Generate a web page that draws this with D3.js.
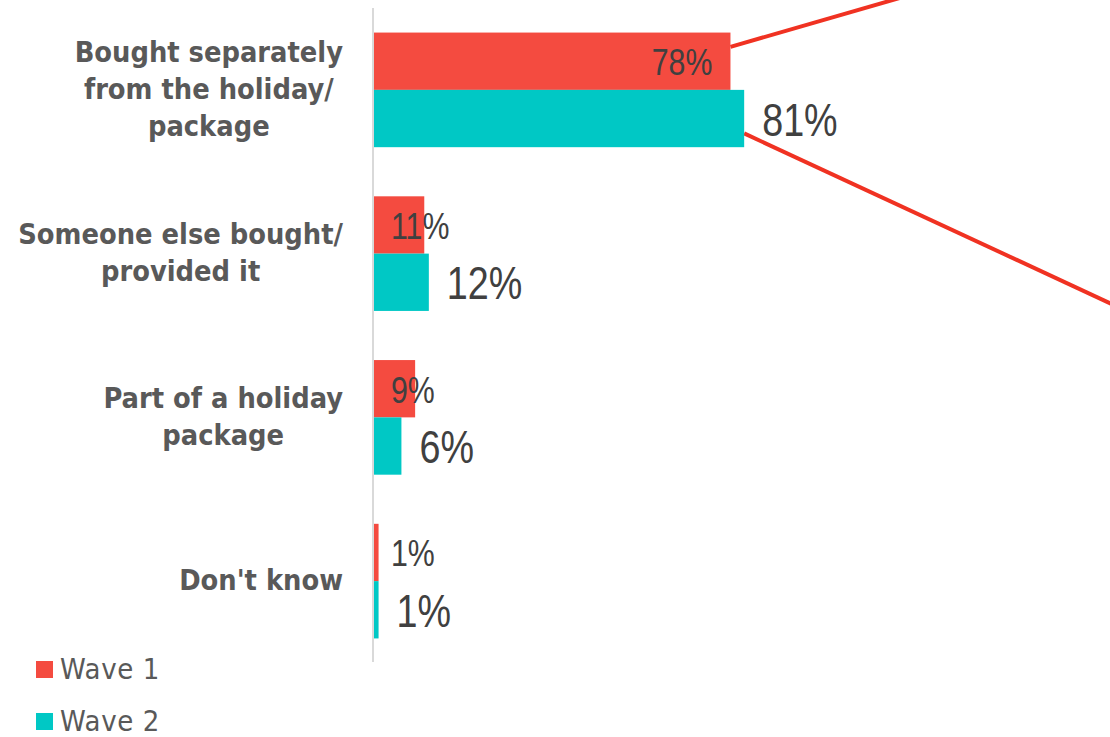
<!DOCTYPE html>
<html>
<head>
<meta charset="utf-8">
<script src="https://cdn.jsdelivr.net/npm/d3@7"></script>
<style>
  body { margin: 0; background: #fff; }
  svg { display: block; }
</style>
</head>
<body>
<svg id="svg" width="1110" height="737"></svg>
<script>
// chart data
var categories = [
  ["Bought separately", "from the holiday/", "package"],
  ["Someone else bought/", "provided it"],
  ["Part of a holiday", "package"],
  ["Don't know"]
];
var seriesNames = ["Wave 1", "Wave 2"];
var wave1 = [78, 11, 9, 1];
var wave2 = [81, 12, 6, 1];

var colors = ["#f44b40", "#00c8c5"];
var svg = d3.select("#svg");
var width = +svg.attr("width"),
    height = +svg.attr("height");

var x = d3.scaleLinear().domain([0, 100]).range([374, 831]);
var y = d3.scaleBand()
    .domain(d3.range(categories.length))
    .range([8, 663])
    .paddingInner(0.3)
    .paddingOuter(0.15);
var ySub = d3.scaleBand().domain([0, 1]).range([0, y.bandwidth()]);

var narrow = 0.82; // value labels are drawn condensed
var valueFont = "'Liberation Sans', Arial, sans-serif";

var rows = categories.map(function(c, i) {
  return { i: i, label: c, values: [wave1[i], wave2[i]] };
});

// axis line
svg.append("line")
   .attr("x1", 373).attr("x2", 373)
   .attr("y1", y.range()[0]).attr("y2", y.range()[1] - 1)
   .attr("stroke", "#d9d9d9").attr("stroke-width", 2);

// callout lines from the top group
var top0 = y(0);
var l1x = x(wave1[0]), l1y = top0 + ySub(0) + ySub.bandwidth() * 0.25;
svg.append("line")
   .attr("x1", l1x).attr("y1", l1y)
   .attr("x2", l1x + 200).attr("y2", l1y - 200 * 0.289)
   .attr("stroke", "#f03222").attr("stroke-width", 4);
var l2x = x(wave2[0]), l2y = top0 + ySub(1) + ySub.bandwidth() * 0.76;
svg.append("line")
   .attr("x1", l2x).attr("y1", l2y)
   .attr("x2", l2x + 400).attr("y2", l2y + 400 * 0.464)
   .attr("stroke", "#f03222").attr("stroke-width", 4);

var group = svg.selectAll("g.grp")
  .data(rows)
  .enter().append("g")
    .attr("class", "grp")
    .attr("transform", function(d) { return "translate(0," + y(d.i) + ")"; });

group.selectAll("rect")
  .data(function(d) { return d.values; })
  .enter().append("rect")
    .attr("x", x(0))
    .attr("y", function(d, j) { return ySub(j); })
    .attr("width", function(d) { return x(d) - x(0); })
    .attr("height", ySub.bandwidth())
    .attr("fill", function(d, j) { return colors[j]; });

// wave 1 labels: inside end, pushed right for short bars
group.append("text")
    .text(function(d) { return d.values[0] + "%"; })
    .attr("font-family", valueFont)
    .attr("font-size", "37px")
    .attr("fill", "#404040")
    .attr("transform", function(d) {
      var w = this.getComputedTextLength() * narrow;
      var tx = Math.max(x(d.values[0]) - 18 - w, x(0) + 17);
      var ty = ySub(0) + ySub.bandwidth() / 2 + 14;
      return "translate(" + tx + "," + ty + ") scale(" + narrow + ",1)";
    });

// wave 2 labels: outside end
group.append("text")
    .text(function(d) { return d.values[1] + "%"; })
    .attr("font-family", valueFont)
    .attr("font-size", "46px")
    .attr("fill", "#404040")
    .attr("transform", function(d) {
      var tx = x(d.values[1]) + 18;
      var ty = ySub(1) + ySub.bandwidth() / 2 + 17;
      return "translate(" + tx + "," + ty + ") scale(" + narrow + ",1)";
    });

// category labels, centred on the widest line, right edge at 343
var cat = group.append("text")
    .attr("text-anchor", "middle")
    .attr("font-family", "'DejaVu Sans Condensed', 'DejaVu Sans', sans-serif")
    .attr("font-weight", "bold")
    .attr("font-size", "28.7px")
    .attr("fill", "#595959");

cat.selectAll("tspan")
  .data(function(d) { return d.label.map(function(t, k) { return { t: t, k: k, n: d.label.length }; }); })
  .enter().append("tspan")
    .attr("y", function(d) { return y.bandwidth() / 2 + 9 + (d.k - (d.n - 1) / 2) * 37; })
    .text(function(d) { return d.t; });

cat.each(function() {
  var spans = d3.select(this).selectAll("tspan");
  var maxW = 0;
  spans.each(function() { maxW = Math.max(maxW, this.getComputedTextLength()); });
  spans.attr("x", 343 - maxW / 2);
});

// legend
var legend = svg.selectAll("g.legend")
  .data(seriesNames)
  .enter().append("g")
    .attr("class", "legend")
    .attr("transform", function(d, i) { return "translate(36," + (661 + i * 52) + ")"; });

legend.append("rect")
    .attr("width", 17).attr("height", 17)
    .attr("fill", function(d, i) { return colors[i]; });

legend.append("text")
    .attr("x", 24).attr("y", 18)
    .attr("font-family", "'DejaVu Sans Condensed', 'DejaVu Sans', sans-serif")
    .attr("font-size", "29px")
    .attr("letter-spacing", "0.6px")
    .attr("fill", "#595959")
    .text(function(d) { return d; });
</script>
</body>
</html>
